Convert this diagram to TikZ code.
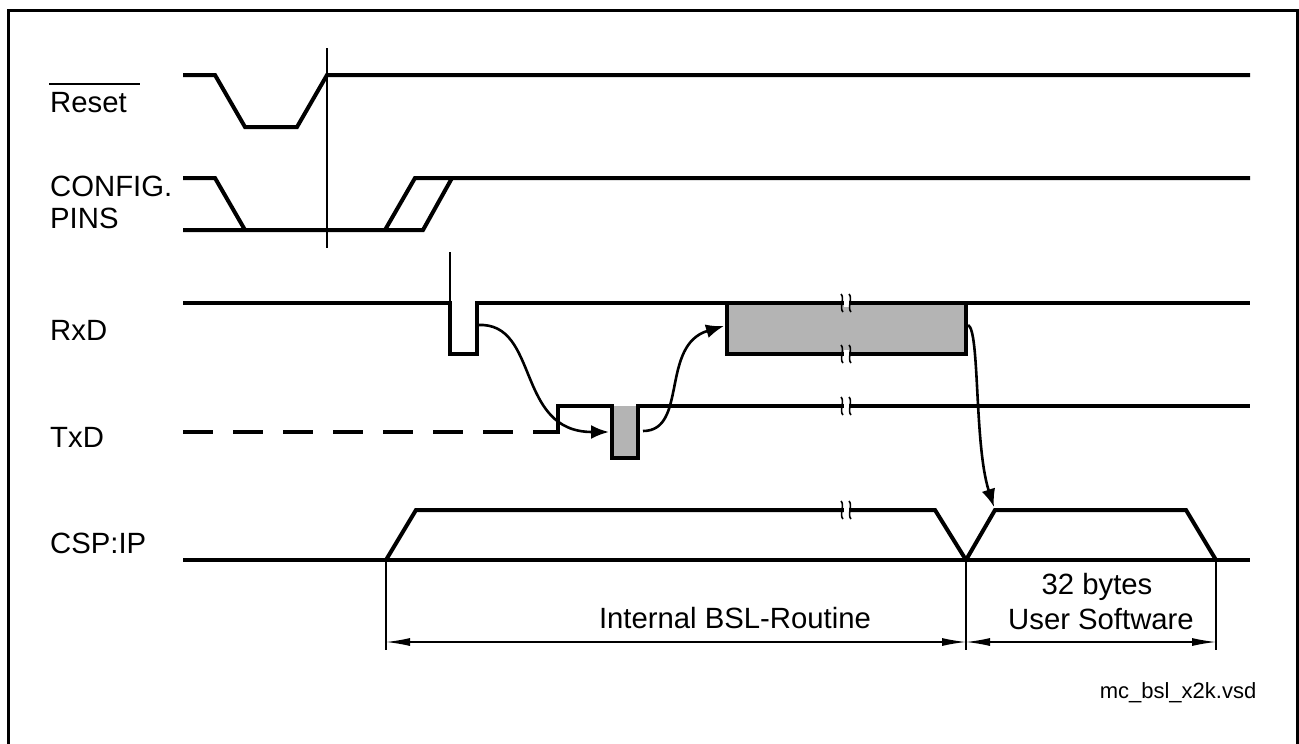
\documentclass[tikz,border=0pt]{standalone}
\usepackage{fontspec}
\setmainfont{Liberation Sans}
\usetikzlibrary{arrows.meta}
\definecolor{boxgray}{RGB}{180,180,180}
\begin{document}
\begin{tikzpicture}[x=1pt,y=-1pt,
  sigline/.style={line width=4pt, line join=miter, line cap=butt},
  guide/.style={line width=1.3pt},
  dimline/.style={line width=1.3pt, {Latex[length=24pt,width=8pt]}-{Latex[length=24pt,width=8pt]}},
  flowarrow/.style={line width=2.6pt, -{Latex[length=18pt,width=14pt]}},
  lbl/.style={inner sep=0pt, font=\fontsize{29.3}{33}\selectfont},
  smalllbl/.style={inner sep=0pt, font=\fontsize{22}{26}\selectfont},
  brkmark/.pic={
    \fill[white] (-2.5,-4) rectangle (2.5,4);
    \draw[line width=1.6pt] (-5,-9) .. controls (-1,-5) and (-7,5) .. (-3,9);
    \draw[line width=1.6pt] (3,-9) .. controls (7,-5) and (1,5) .. (5,9);
  }]
\useasboundingbox (0,0) rectangle (1299,744);
% frame
\draw[line width=3pt] (8,744) -- (8,10) -- (1297,10) -- (1297,744);

% labels
\node[lbl, anchor=base west] (lreset) at (50,112) {Reset};
\draw[line width=2pt] (49,84) -- (140,84);
\node[lbl, anchor=base west] (lconf) at (50,196) {CONFIG.};
\node[lbl, anchor=base west] (lpins) at (50,228) {PINS};
\node[lbl, anchor=base west] (lrxd) at (50,340) {RxD};
\node[lbl, anchor=base west] (ltxd) at (50,447) {TxD};
\node[lbl, anchor=base west] (lcsp) at (50,553) {CSP:IP};

% Reset
\draw[sigline] (183,75) -- (215,75) -- (245,127) -- (297,127) -- (327,75) -- (1250,75);
\draw[guide] (327,48) -- (327,248);

% CONFIG PINS
\draw[sigline] (183,178) -- (215,178) -- (245,230);
\draw[sigline] (183,230) -- (423,230) -- (452,178) -- (1250,178);
\draw[sigline] (385,230) -- (415,178) -- (452,178);

% RxD
\draw[guide] (450,252) -- (450,303);
\draw[sigline] (183,303) -- (450,303) -- (450,354) -- (477,354) -- (477,303) -- (1250,303);
\draw[sigline, fill=boxgray] (727,303) rectangle (966,354);

% TxD
\draw[sigline, dash pattern=on 30pt off 20pt] (183,432) -- (558,432);
\fill[boxgray] (612,406) rectangle (638,458);
\draw[sigline] (558,434) -- (558,406) -- (612,406) -- (612,458) -- (638,458) -- (638,406) -- (1250,406);

% CSP:IP
\draw[sigline] (183,560) -- (1250,560);
\draw[sigline] (386,560) -- (416,510) -- (935,510) -- (966,560) -- (995,510) -- (1186,510) -- (1216,560);

% break marks
\pic at (846,303) {brkmark};
\pic at (846,354) {brkmark};
\pic at (846,406) {brkmark};
\pic at (846,510) {brkmark};

% flow arrows
\coordinate (a1s) at (478,325);
\coordinate (a1e) at (609,432);
\draw[flowarrow] (a1s) .. controls (540,322) and (515,432) .. (a1e);
\coordinate (a2s) at (643,431);
\coordinate (a2e) at (724,326);
\draw[flowarrow] (a2s) .. controls (688,431) and (660,345) .. (a2e);
\coordinate (a3s) at (968,325);
\coordinate (a3e) at (994,507);
\draw[flowarrow] (a3s) .. controls (980,330) and (974,445) .. (a3e);

% dimension lines
\coordinate (d1) at (386,642);
\coordinate (d2) at (966,642);
\coordinate (d3) at (1216,642);
\draw[guide] (386,560) -- (386,650);
\draw[guide] (966,560) -- (966,650);
\draw[guide] (1216,560) -- (1216,650);
\draw[dimline] (d1) -- (d2);
\draw[dimline] (d2) -- (d3);

\node[lbl, anchor=base] (tbsl) at (735,628) {Internal BSL-Routine};
\node[lbl, anchor=base] (t32) at (1097,594) {32 bytes};
\node[lbl, anchor=base] (tusr) at (1101,629) {User Software};
\node[smalllbl, anchor=base] (tfile) at (1178,698) {mc\_bsl\_x2k.vsd};
\end{tikzpicture}
\end{document}
